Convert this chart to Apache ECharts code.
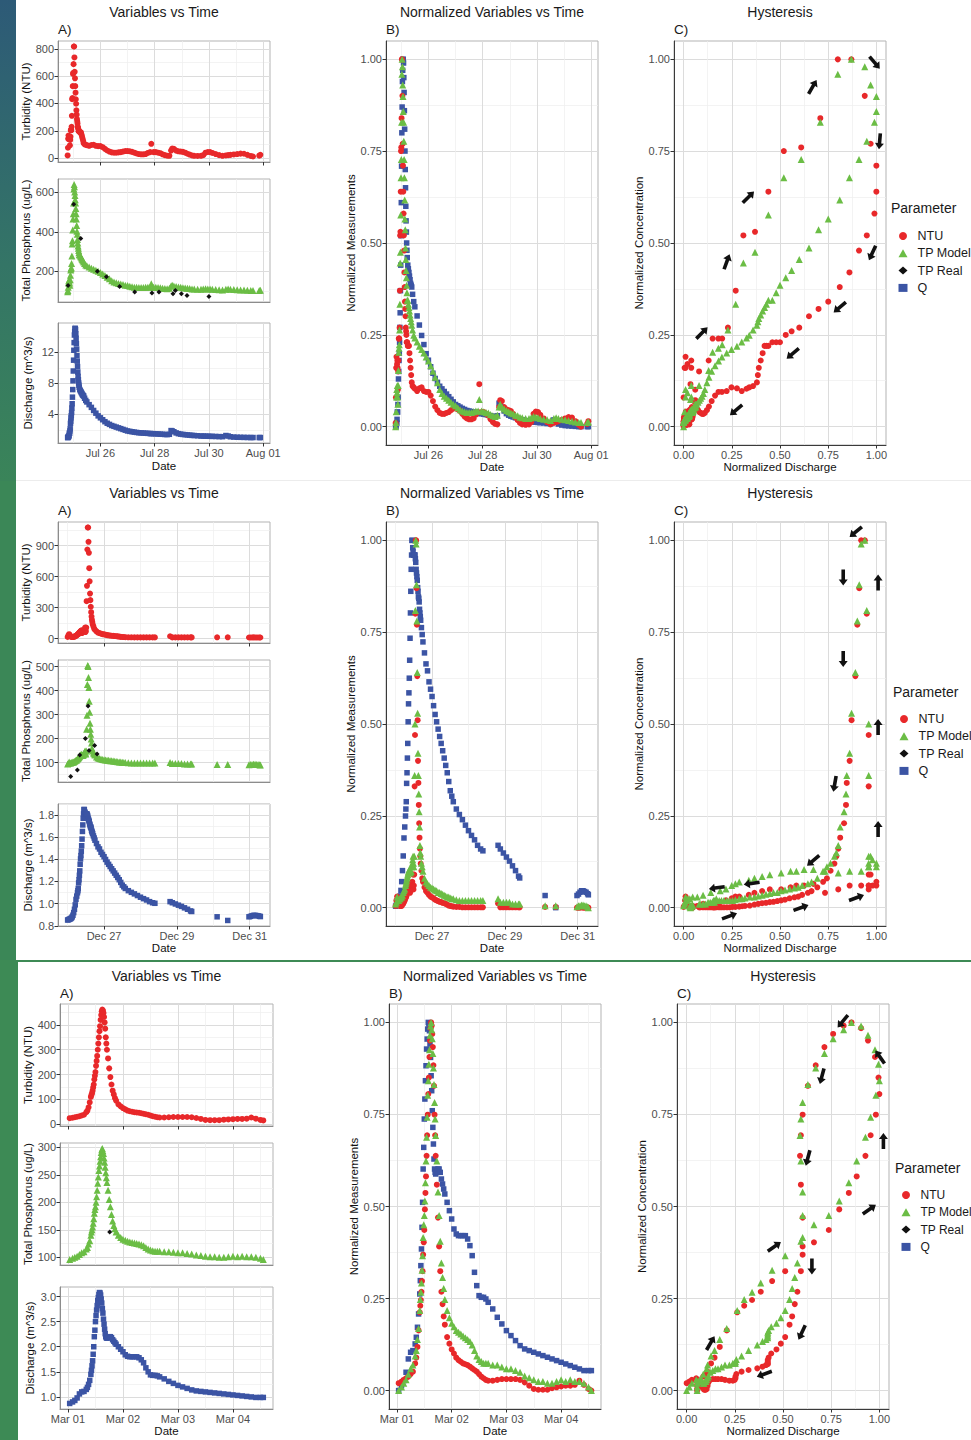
<!DOCTYPE html>
<html><head><meta charset="utf-8">
<script src="https://cdn.jsdelivr.net/npm/echarts@6.0.0/dist/echarts.min.js"></script>
<style>html,body{margin:0;padding:0;background:#fff;} #c{width:971px;height:1440px;}</style>
</head><body><div id="c"></div>
<script>
// ================= DATA =================
// Event 1 : hours since Jul 24 00:00
const ev1Hours = [19,19.25,19.5,19.75,20,20.25,20.5,20.75,21,21.25,21.5,21.75,22,22.25,22.5,22.75,23,23.25,23.5,23.75,24,24.25,24.5,24.75,25,25.25,25.5,25.75,26,26.25,26.5,26.75,27,27.25,27.5,27.75,28,28.25,28.5,28.75,29,29.25,29.75,30.25,30.75,31.25,31.75,32.25,32.75,33.25,34,35,
36,38,40,42,44,46,48,50,52,54,56,58,60,62,64,66,68,70,72,74,76,78,80,82,84,86,88,90,92,
93,95,97,99,101,103,105,107,109,110.5,111.5,113,115,117,119,121,123,125,127,129,131,
134,137,139,141,143,145,147,150,153,156,159,161,163,166,169,172,175,178,181,183,188.5,189.5];
const ev1Discharge = [1.0,1.0,1.07,1.14,1.14,1.28,1.56,1.56,1.85,2.13,2.83,3.12,3.54,3.82,4.24,4.81,5.37,6.22,7.2,8.33,9.6,11.0,12.28,13.27,14.25,14.68,15.1,15.1,14.96,14.4,13.83,13.13,12.42,11.58,10.87,10.17,9.46,8.9,8.47,8.05,7.77,7.49,7.2,7.06,6.92,6.78,6.64,6.5,6.43,6.36,6.08,5.8,
5.6,5.25,4.9,4.5,4.15,3.8,3.55,3.3,3.05,2.85,2.7,2.55,2.45,2.35,2.25,2.15,2.05,1.95,1.85,1.8,1.75,1.7,1.66,1.62,1.6,1.58,1.56,1.54,1.52,
1.5,1.5,1.48,1.46,1.44,1.42,1.4,1.38,1.42,1.9,1.85,1.75,1.6,1.5,1.44,1.4,1.37,1.34,1.31,1.28,1.26,
1.23,1.2,1.19,1.18,1.17,1.16,1.15,1.14,1.12,1.11,1.26,1.2,1.1,1.06,1.04,1.03,1.02,1.01,1.0,1.0,1.0,1.0];
const ev1Turbidity = [20,76,141,165,141,149,157,141,93,133,157,205,205,205,229,310,431,439,527,616,624,688,817,817,737,632,584,527,479,431,398,350,318,286,270,254,229,221,213,197,197,197,189,189,189,173,157,141,125,109,101,98,
95,90,96,98,90,88,88,80,68,56,48,42,40,40,42,44,48,52,52,50,46,40,34,30,28,28,30,38,44,
105,44,44,40,36,28,22,18,17,55,70,68,55,50,48,46,40,32,26,20,17,
16,17,22,40,45,44,38,30,22,17,20,22,24,27,30,33,32,24,16,12,18,24];
const ev1TPModel = [97,103,119,141,152,147,158,141,130,158,180,207,213,218,240,278,339,355,410,465,492,547,618,640,629,602,585,563,547,519,492,465,432,404,388,361,344,328,317,306,295,284,284,278,273,268,262,257,252,247,240,232,
228,222,216,211,206,200,194,187,179,170,162,152,146,142,139,136,133,130,128,125,122,120,119,118,118,118,119,120,120,
137,120,119,118,117,115,113,112,114,126,130,126,123,121,119,117,116,114,113,111,110,
109,109,110,112,111,110,109,108,107,106,109,110,109,108,107,106,105,104,103,103,103,104];
const ev1TPRealHours = [19.4,24.4,30.6,45.3,53.3,65,78.3,93.6,99.8,112.2,114.3,119.6,124.6,144];
const ev1TPReal = [128,540,367,200,173,123,95,90,95,87,103,87,78,73];
const ev1DateTicks = [48,96,144,192];
const ev1DateLabels = ['Jul 26','Jul 28','Jul 30','Aug 01'];
const ev1TurbTicks = [0,200,400,600,800];
const ev1TPTicks = [200,400,600];
const ev1QTicks = [4,8,12];
const ev1QLabels = ['4','8','12'];
const ev1Arrows = [[0.095,0.255,45],[0.224,0.449,70],[0.336,0.625,45],[0.669,0.925,60],[0.991,0.991,-50],[1.017,0.777,-95],[0.979,0.473,-115],[0.81,0.325,-140],[0.566,0.199,-140],[0.272,0.045,-140]];

// Event 2 : hours since Dec 26 00:00
const ev2Hours = [0,0.5,1,1.5,2,2.5,3,3.5,4,4.5,5,5.5,6,6.5,
6.75,7,7.25,7.5,7.75,8,8.25,8.5,8.75,9,9.25,9.5,9.75,10,10.25,10.5,10.75,11,11.25,11.5,11.75,12,12.25,12.5,12.75,13,13.25,13.5,13.75,14,14.25,14.5,14.75,15,15.25,15.5,15.75,16,16.25,16.5,
17,17.5,18,19,20,21,22,23,24,25,26,27,28,29,30,31,32,33,34,35,36,37,38,
40,42,44,46,48,50,52,54,56,57.5,67.5,69,71,73,75,77,79,81,81.75,98.5,105.5,
119.5,120.5,121.5,122.5,123.5,124.5,125.5,126.5,127];
const ev2Discharge = [0.852,0.855,0.858,0.86,0.865,0.87,0.88,0.895,0.919,0.949,0.989,1.038,1.068,1.098,
1.117,1.137,1.187,1.216,1.256,1.296,1.355,1.404,1.434,1.474,1.523,1.583,1.652,1.711,1.771,1.81,1.85,1.85,1.83,1.82,1.81,1.81,1.81,1.81,1.81,1.80,1.79,1.771,1.761,1.751,1.741,1.721,1.711,1.696,1.692,1.682,1.662,1.652,1.642,1.632,
1.612,1.593,1.573,1.543,1.513,1.494,1.464,1.444,1.424,1.399,1.375,1.355,1.335,1.315,1.296,1.276,1.256,1.236,1.216,1.192,1.167,1.152,1.137,
1.117,1.102,1.088,1.073,1.058,1.045,1.033,1.018,1.008,1.003,1.018,1.008,0.997,0.986,0.975,0.962,0.949,0.934,0.929,0.881,0.848,
0.881,0.885,0.89,0.894,0.894,0.892,0.89,0.886,0.883];
const ev2Turbidity = [15,31,42,31,21,15,15,15,15,21,21,26,31,37,
42,42,47,53,58,63,63,69,74,74,79,53,63,74,74,74,74,85,74,106,63,74,106,362,511,863,1076,1076,937,831,682,554,436,372,308,255,213,181,159,138,
117,95,85,69,58,53,47,42,40,37,33,31,29,27,26,24,23,21,19,16,15,14,13,
12,12,11,11,11,11,11,11,11,11,22,11,11,11,11,11,11,11,11,12,12,
10,10,10,11,10,10,10,10,10];
const ev2TPModel = [94,96,102,98,98,100,100,102,102,104,107,109,111,115,
117,119,121,123,125,127,129,131,131,133,133,131,129,131,131,136,136,140,144,148,140,136,148,239,297,425,504,500,454,413,355,309,264,239,218,198,181,160,152,148,
140,136,131,123,119,117,115,113,112,111,110,109,107,107,106,105,104,103,102,102,101,100,100,
99,98,98,98,98,98,98,98,98,98,100,96,96,96,96,94,94,94,94,92,92,
91,92,92,93,93,92,92,91,90];
const ev2TPRealHours = [2,6.4,8,11.7,13.45,14.1,17.8,19.4];
const ev2TPReal = [42,69,131,200,336,150,171,136];
const ev2DateTicks = [24,72,120];
const ev2DateLabels = ['Dec 27','Dec 29','Dec 31'];
const ev2TurbTicks = [0,300,600,900];
const ev2TPTicks = [100,200,300,400,500];
const ev2QTicks = [0.8,1.0,1.2,1.4,1.6,1.8];
const ev2QLabels = ['0.8','1.0','1.2','1.4','1.6','1.8'];
const ev2Arrows = [[0.893,1.023,-140],[0.828,0.899,-90],[1.009,0.885,90],[0.828,0.677,-90],[1.009,0.492,90],[0.784,0.337,-100],[1.009,0.214,90],[0.672,0.128,-140],[0.353,0.066,188],[0.172,0.054,188],[0.238,-0.023,20],[0.609,0.0,20],[0.897,0.027,20]];

// Event 3 : hours since Mar 01 00:00
const ev3Hours = [0.75,2,3,4,5,6,7,8,8.5,9,9.5,10,
10.25,10.5,10.75,11,11.25,11.5,11.75,12,12.25,12.5,12.75,13,13.25,13.5,13.75,14,14.25,14.5,14.75,15,15.25,15.5,15.75,16,16.25,16.5,16.75,17,
17.5,18,18.5,19,19.5,20,20.5,21,
22,23,24,25,26,27,28,29,30,31,32,33,34,35,36,37,38,39,40,
42,44,46,48,50,52,54,56,58,60,62,64,66,68,70,72,74,76,78,80,82,84,85.25];
const ev3Discharge = [0.87,0.9,0.93,0.98,1.06,1.1,1.11,1.15,1.19,1.25,1.33,1.45,
1.53,1.62,1.72,1.85,2.0,2.2,2.33,2.5,2.62,2.73,2.82,2.92,2.98,3.04,3.08,3.07,3.03,2.95,2.87,2.76,2.67,2.55,2.45,2.35,2.26,2.2,2.18,2.17,
2.18,2.2,2.2,2.18,2.14,2.11,2.08,2.05,
2.0,1.95,1.9,1.84,1.81,1.8,1.8,1.8,1.8,1.78,1.74,1.68,1.58,1.5,1.44,1.43,1.43,1.42,1.4,
1.36,1.31,1.27,1.23,1.2,1.17,1.14,1.12,1.11,1.1,1.09,1.08,1.07,1.06,1.05,1.04,1.03,1.02,1.01,1.0,0.99,0.99,0.99];
const ev3Turbidity = [24,26,28,30,32,35,38,48,55,68,88,110,
118,125,135,148,160,180,195,210,235,255,275,300,325,350,375,395,420,440,455,462,458,448,432,410,385,350,325,300,
265,225,190,160,135,120,105,95,
80,72,65,60,55,52,50,48,47,46,44,42,40,38,35,32,30,28,27,
27,28,29,29,29,29,28,25,21,17,16,16,16,18,19,20,21,21,22,27,22,17,15];
const ev3TPModel = [96,98,100,102,105,108,110,115,118,124,130,140,
146,150,155,162,170,180,187,192,200,210,222,235,246,258,266,275,283,291,296,298,294,289,281,273,264,254,245,236,
222,205,192,178,166,158,152,146,
140,136,133,131,129,128,127,126,125,124,123,121,118,115,113,112,111,111,111,
110,110,109,108,108,107,106,104,103,102,101,101,100,100,101,102,101,102,101,101,100,98,96];
const ev3TPRealHours = [18.2];
const ev3TPReal = [146];
const ev3DateTicks = [0,24,48,72];
const ev3DateLabels = ['Mar 01','Mar 02','Mar 03','Mar 04'];
const ev3TurbTicks = [0,100,200,300,400];
const ev3TPTicks = [100,150,200,250,300];
const ev3QTicks = [1,1.5,2,2.5,3];
const ev3QLabels = ['1.0','1.5','2.0','2.5','3.0'];
const ev3Arrows = [[0.124,0.129,60],[0.455,0.391,35],[0.948,0.492,35],[1.021,0.678,90],[1.003,0.906,125],[0.81,1.003,-130],[0.702,0.854,-105],[0.629,0.632,-105],[0.65,0.337,-90],[0.598,0.158,-115],[0.403,0.045,200]];

const normTicks = [0,0.25,0.5,0.75,1];
const normLabels = ['0.00','0.25','0.50','0.75','1.00'];
const legendNames = ['NTU','TP Model','TP Real','Q'];

// ================= STYLE =================
const FONT = '"Liberation Sans", Arial, Helvetica, sans-serif';
const RED = '#E8282A', GREEN = '#6BBD45', BLUE = '#3B54A4', BLACK = '#111111';
const MAJOR_GRID = '#dcdcdc', MINOR_GRID = '#eeeeee';
const ARROW = 'path://M0,2.7L10,2.7L10,0L16,4.5L10,9L10,6.3L0,6.3Z';

const events = [
  {hours:ev1Hours,q:ev1Discharge,ntu:ev1Turbidity,tp:ev1TPModel,rh:ev1TPRealHours,rv:ev1TPReal,dt:ev1DateTicks,dl:ev1DateLabels,nt:ev1TurbTicks,tt:ev1TPTicks,qt:ev1QTicks,ql:ev1QLabels,arrows:ev1Arrows},
  {hours:ev2Hours,q:ev2Discharge,ntu:ev2Turbidity,tp:ev2TPModel,rh:ev2TPRealHours,rv:ev2TPReal,dt:ev2DateTicks,dl:ev2DateLabels,nt:ev2TurbTicks,tt:ev2TPTicks,qt:ev2QTicks,ql:ev2QLabels,arrows:ev2Arrows},
  {hours:ev3Hours,q:ev3Discharge,ntu:ev3Turbidity,tp:ev3TPModel,rh:ev3TPRealHours,rv:ev3TPReal,dt:ev3DateTicks,dl:ev3DateLabels,nt:ev3TurbTicks,tt:ev3TPTicks,qt:ev3QTicks,ql:ev3QLabels,arrows:ev3Arrows}
];
const layouts = [
  {aLeft:58,aW:212,a:[[41,121],[179,123],[323,120]],bLeft:386,cLeft:674,pW:212,pTop:41,pH:404,titleY:12,tagY:29,aGap:24,bGap:27,cGap:28,aDate:17,bDate:15,legLeft:893.5,legTop:224,parX:891,parY:208,legFont:12.5},
  {aLeft:58,aW:212,a:[[522,121],[660,122],[804,122]],bLeft:386,cLeft:674,pW:212,pTop:522,pH:404,titleY:493,tagY:510,aGap:24,bGap:27,cGap:28,aDate:15,bDate:15,legLeft:894.5,legTop:707,parX:893,parY:692,legFont:12.5},
  {aLeft:60,aW:213,a:[[1004,122],[1143,122],[1287,122]],bLeft:389,cLeft:677,pW:212,pTop:1004,pH:405,titleY:976,tagY:993,aGap:24,bGap:26,cGap:28,aDate:15,bDate:15,legLeft:896.5,legTop:1183,parX:895,parY:1168,legFont:12}
];

// ================= HELPERS =================
function extent(arrs){let mn=Infinity,mx=-Infinity;arrs.forEach(a=>a.forEach(v=>{if(v<mn)mn=v;if(v>mx)mx=v;}));return [mn,mx];}
function expand(e){const d=(e[1]-e[0])*0.05;return [e[0]-d,e[1]+d];}
function normalize(a){const e=extent([a]);return a.map(v=>(v-e[0])/(e[1]-e[0]));}
function minorsOf(t,lo,hi){const d=t[1]-t[0];const out=[];for(let k=-3;k<t.length+3;k++){const v=+(t[0]+(k+0.5)*d).toFixed(6);if(v>lo&&v<hi)out.push(v);}return out;}
function lookup(t,l){return v=>{for(let i=0;i<t.length;i++){if(Math.abs(t[i]-v)<1e-6)return l[i];}return '';};}
function zip(a,b){return a.map((v,i)=>[v,b[i]]);}

const option = {animation:false,textStyle:{fontFamily:FONT},grid:[],xAxis:[],yAxis:[],series:[],legend:[],graphic:[]};

function addGrid(left,top,width,height){
  option.grid.push({left,top,width,height,show:true,backgroundColor:'#ffffff',borderColor:'#b3b3b3',borderWidth:1,containLabel:false});
  return option.grid.length-1;
}
function addAxis(kind,gi,range,ticks,labels,o){
  const list = kind==='x'?option.xAxis:option.yAxis;
  list.push({type:'value',gridIndex:gi,min:range[0],max:range[1],position:kind==='x'?'top':'right',silent:true,
    axisLine:{show:false},axisTick:{show:false,customValues:minorsOf(ticks,range[0],range[1])},axisLabel:{show:false},
    splitLine:{show:true,lineStyle:{color:MINOR_GRID,width:0.7}}});
  const ax = {type:'value',gridIndex:gi,min:range[0],max:range[1],position:kind==='x'?'bottom':'left',silent:true,
    axisLine:{show:true,onZero:false,lineStyle:{color:o.line,width:1}},
    axisTick:{show:!!o.ticks,customValues:ticks,length:3.5,lineStyle:{color:'#333333',width:1}},
    axisLabel:{show:!!o.labels,customValues:ticks,formatter:lookup(ticks,labels),color:'#4d4d4d',fontSize:11,fontFamily:FONT,margin:4},
    splitLine:{show:true,lineStyle:{color:MAJOR_GRID,width:1}}};
  if(o.name){Object.assign(ax,{name:o.name,nameLocation:'middle',nameGap:o.gap,nameTextStyle:{color:'#111111',fontSize:11.5,fontFamily:FONT}});}
  list.push(ax);
  return list.length-1;
}
function scatter(name,xi,yi,data,symbol,size,color,extra){
  return Object.assign({type:'scatter',name,xAxisIndex:xi,yAxisIndex:yi,data,symbol,symbolSize:size,
    itemStyle:{color,opacity:1},silent:true,emphasis:{disabled:true},animation:false},extra||{});
}
function text(x,y,str,size,align){
  return {type:'text',x,y,silent:true,z:50,style:{text:str,fill:'#1a1a1a',font:size+'px '+FONT,textAlign:align,align:align,textVerticalAlign:'middle',verticalAlign:'middle'}};
}

// ================= BUILD =================
events.forEach((ev,r)=>{
  const L = layouts[r];
  const xr = expand(extent([ev.hours,ev.rh]));
  const A_LINE = '#8c8c8c', D_LINE = '#3a3a3a';
  // A1 turbidity
  let g = addGrid(L.aLeft,L.a[0][0],L.aW,L.a[0][1]);
  let xi = addAxis('x',g,xr,ev.dt,ev.dl,{line:A_LINE,ticks:true,labels:false});
  let yi = addAxis('y',g,expand(extent([ev.ntu])),ev.nt,ev.nt.map(String),{line:A_LINE,ticks:true,labels:true,name:'Turbidity (NTU)',gap:L.aGap});
  option.series.push(scatter('NTU',xi,yi,zip(ev.hours,ev.ntu),'circle',6,RED));
  // A2 total phosphorus
  g = addGrid(L.aLeft,L.a[1][0],L.aW,L.a[1][1]);
  xi = addAxis('x',g,xr,ev.dt,ev.dl,{line:A_LINE,ticks:false,labels:false});
  yi = addAxis('y',g,expand(extent([ev.tp,ev.rv])),ev.tt,ev.tt.map(String),{line:A_LINE,ticks:true,labels:true,name:'Total Phosphorus (ug/L)',gap:L.aGap});
  option.series.push(scatter('TP Model',xi,yi,zip(ev.hours,ev.tp),'triangle',7,GREEN));
  option.series.push(scatter('TP Real',xi,yi,zip(ev.rh,ev.rv),'diamond',5,BLACK));
  // A3 discharge
  g = addGrid(L.aLeft,L.a[2][0],L.aW,L.a[2][1]);
  xi = addAxis('x',g,xr,ev.dt,ev.dl,{line:A_LINE,ticks:true,labels:true,name:'Date',gap:L.aDate});
  yi = addAxis('y',g,expand(extent([ev.q])),ev.qt,ev.ql,{line:A_LINE,ticks:true,labels:true,name:'Discharge (m^3/s)',gap:L.aGap});
  option.series.push(scatter('Q',xi,yi,zip(ev.hours,ev.q),'rect',5.5,BLUE));

  const qn = normalize(ev.q), nn = normalize(ev.ntu), tn = normalize(ev.tp);
  // B normalized vs time
  g = addGrid(L.bLeft,L.pTop,L.pW,L.pH);
  xi = addAxis('x',g,xr,ev.dt,ev.dl,{line:D_LINE,ticks:true,labels:true,name:'Date',gap:L.bDate});
  yi = addAxis('y',g,[-0.05,1.05],normTicks,normLabels,{line:D_LINE,ticks:true,labels:true,name:'Normalized Measurements',gap:L.bGap});
  option.series.push(scatter('Q',xi,yi,zip(ev.hours,qn),'rect',5.5,BLUE));
  option.series.push(scatter('NTU',xi,yi,zip(ev.hours,nn),'circle',6,RED));
  option.series.push(scatter('TP Model',xi,yi,zip(ev.hours,tn),'triangle',7,GREEN));
  // C hysteresis
  g = addGrid(L.cLeft,L.pTop,L.pW,L.pH);
  xi = addAxis('x',g,[-0.05,1.05],normTicks,normLabels,{line:D_LINE,ticks:true,labels:true,name:'Normalized Discharge',gap:L.bDate});
  yi = addAxis('y',g,[-0.05,1.05],normTicks,normLabels,{line:D_LINE,ticks:true,labels:true,name:'Normalized Concentration',gap:L.cGap});
  option.series.push(scatter('NTU',xi,yi,zip(qn,nn),'circle',6,RED));
  option.series.push(scatter('TP Model',xi,yi,zip(qn,tn),'triangle',7,GREEN));
  option.series.push(scatter('direction',xi,yi,ev.arrows.map(a=>({value:[a[0],a[1]],symbolRotate:a[2]})),ARROW,[16,9],BLACK,{clip:false,z:5}));

  // legend
  option.legend.push({orient:'vertical',left:L.legLeft,top:L.legTop,itemWidth:9,itemHeight:8,itemGap:3.3,selectedMode:false,
    textStyle:{fontSize:L.legFont,color:'#1a1a1a',fontFamily:FONT,lineHeight:14,padding:[0,0,0,5]},
    data:[{name:'NTU',icon:'circle'},{name:'TP Model',icon:'triangle'},{name:'TP Real',icon:'diamond'},{name:'Q',icon:'rect'}]});
  // titles
  option.graphic.push(text(L.aLeft+L.aW/2,L.titleY,'Variables vs Time',14,'center'));
  option.graphic.push(text(L.bLeft+L.pW/2,L.titleY,'Normalized Variables vs Time',14,'center'));
  option.graphic.push(text(L.cLeft+L.pW/2,L.titleY,'Hysteresis',14,'center'));
  option.graphic.push(text(L.aLeft,L.tagY,'A)',13.5,'left'));
  option.graphic.push(text(L.bLeft,L.tagY,'B)',13.5,'left'));
  option.graphic.push(text(L.cLeft,L.tagY,'C)',13.5,'left'));
  option.graphic.push(text(L.parX,L.parY,'Parameter',14,'left'));
});

// page decorations
option.graphic.push({type:'rect',silent:true,shape:{x:0,y:0,width:16,height:481},style:{fill:new echarts.graphic.LinearGradient(0,0,0,1,[{offset:0,color:'#2D5A77'},{offset:0.55,color:'#347566'},{offset:1,color:'#3A8459'}])}});
option.graphic.push({type:'rect',silent:true,shape:{x:0,y:481,width:16,height:480},style:{fill:'#3B8757'}});
option.graphic.push({type:'rect',silent:true,shape:{x:0,y:960,width:18,height:480},style:{fill:'#3D8A55'}});
option.graphic.push({type:'rect',silent:true,shape:{x:16,y:960,width:955,height:2},style:{fill:'#3D8A55'}});
option.graphic.push({type:'rect',silent:true,shape:{x:16,y:480,width:955,height:1},style:{fill:'#ececec'}});

const chart = echarts.init(document.getElementById('c'),null,{renderer:'svg',width:971,height:1440});
chart.setOption(option);
</script></body></html>
